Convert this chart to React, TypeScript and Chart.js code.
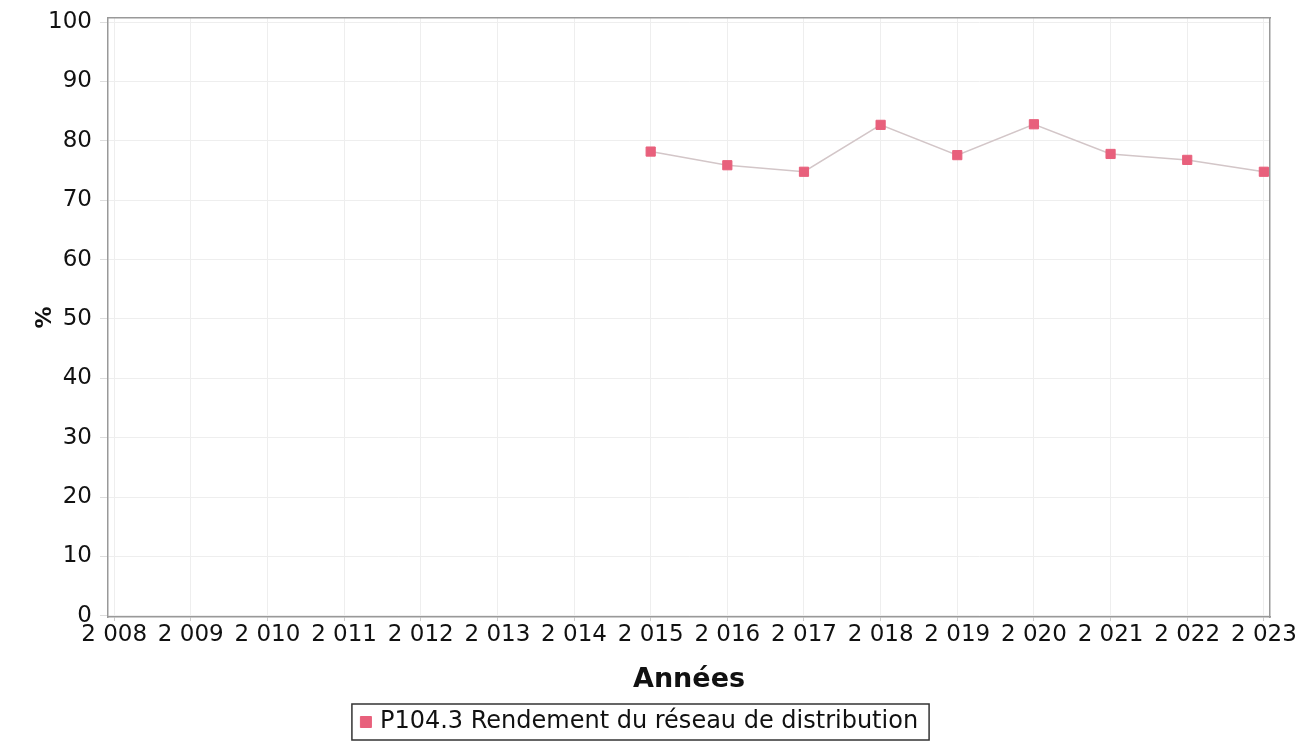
import React, { useEffect, useRef } from 'react';
import { Chart, registerables } from 'chart.js';

Chart.register(...registerables);

const years = [2015, 2016, 2017, 2018, 2019, 2020, 2021, 2022, 2023];
const rendement = [78.2, 75.9, 74.8, 82.7, 77.6, 82.8, 77.8, 76.8, 74.8];
const xTickYears = [2008, 2009, 2010, 2011, 2012, 2013, 2014, 2015, 2016, 2017, 2018, 2019, 2020, 2021, 2022, 2023];
const yTickValues = [0, 10, 20, 30, 40, 50, 60, 70, 80, 90, 100];
const seriesLabel = 'P104.3 Rendement du réseau de distribution';
const xTitle = 'Années';
const yTitle = '%';

const FONT = "'DejaVu Sans', sans-serif";

const fmtYear = (v: number) => String(v).replace(/\B(?=(\d{3})+(?!\d))/g, ' ');

const LEGEND_SHIFT = 8;

const legendBorder = {
  id: 'legendBorder',
  afterLayout(chart: any) {
    const lg = chart.legend;
    if (!lg) return;
    lg.left -= LEGEND_SHIFT;
    lg.right -= LEGEND_SHIFT;
  },
  afterDraw(chart: any) {
    const lg = chart.legend;
    if (!lg || !lg.legendHitBoxes || !lg.legendHitBoxes.length) return;
    const hb = lg.legendHitBoxes[0];
    const ctx = chart.ctx;
    ctx.save();
    ctx.strokeStyle = '#333';
    ctx.lineWidth = 1.5;
    ctx.strokeRect(hb.left - 12, hb.top + hb.height / 2 - 18, hb.width + 23, 36);
    ctx.restore();
  },
};

export default function App() {
  const ref = useRef<HTMLCanvasElement>(null);
  useEffect(() => {
    const chart = new Chart(ref.current!, {
      type: 'line',
      data: {
        datasets: [
          {
            label: seriesLabel,
            data: years.map((x, i) => ({ x, y: rendement[i] })),
            borderColor: '#d3c6c8',
            borderWidth: 1.5,
            pointStyle: 'rect',
            pointRadius: 6.5,
            pointBackgroundColor: '#e8607c',
            pointBorderColor: '#e8607c',
            pointBorderWidth: 1,
            tension: 0,
          },
        ],
      },
      options: {
        animation: false,
        responsive: false,
        maintainAspectRatio: false,
        layout: { padding: { left: 28, right: 36, top: 18, bottom: 0 } },
        plugins: {
          tooltip: { enabled: false },
          legend: {
            position: 'bottom',
            labels: {
              usePointStyle: true,
              pointStyle: 'rect',
              boxWidth: 4,
              boxHeight: 11,
              padding: 10,
              color: '#111',
              font: { family: FONT, size: 24 },
            },
          },
        },
        scales: {
          x: {
            type: 'linear',
            min: 2007.92,
            max: 2023.08,
            afterBuildTicks: (s: any) => {
              s.ticks = xTickYears.map((v) => ({ value: v }));
            },
            afterFit: (s: any) => {
              s.height = 83;
              s.paddingLeft = 0;
              s.paddingRight = 0;
            },
            ticks: {
              autoSkip: false,
              maxRotation: 0,
              padding: 0,
              color: '#111',
              font: { family: FONT, size: 23 },
              callback: (v: any) => fmtYear(Number(v)),
            },
            grid: { color: '#eeeeee', tickLength: 4, tickColor: '#cccccc' },
            border: { display: true, color: '#999999', width: 1.5 },
            title: {
              display: true,
              text: xTitle,
              color: '#111',
              font: { family: FONT, size: 27, weight: 'bold' },
              padding: { top: 4, bottom: 4 },
            },
          },
          y: {
            type: 'linear',
            min: -0.2,
            max: 100.7,
            afterBuildTicks: (s: any) => {
              s.ticks = yTickValues.map((v) => ({ value: v }));
            },
            afterFit: (s: any) => {
              s.width = 80;
              s.paddingTop = 0;
              s.paddingBottom = 0;
            },
            ticks: {
              padding: 8,
              color: '#111',
              font: { family: FONT, size: 23 },
            },
            grid: { color: '#eeeeee', tickLength: 8, tickColor: '#dddddd' },
            border: { display: true, color: '#999999', width: 1.5 },
            title: {
              display: true,
              text: yTitle,
              color: '#111',
              font: { family: FONT, size: 22, weight: 'bold' },
              padding: { top: 4, bottom: 4 },
            },
          },
          x2: {
            type: 'linear',
            position: 'top',
            display: true,
            min: 2007.92,
            max: 2023.08,
            afterFit: (s: any) => {
              s.height = 0;
              s.paddingLeft = 0;
              s.paddingRight = 0;
            },
            ticks: { display: false },
            grid: { display: false },
            border: { display: true, color: '#999999', width: 1.5 },
          },
          y2: {
            type: 'linear',
            position: 'right',
            display: true,
            min: 0,
            max: 100,
            afterFit: (s: any) => {
              s.width = 0;
              s.paddingTop = 0;
              s.paddingBottom = 0;
            },
            ticks: { display: false },
            grid: { display: false },
            border: { display: true, color: '#999999', width: 1.5 },
          },
        },
      },
      plugins: [legendBorder],
    } as any);
    return () => chart.destroy();
  }, []);

  return (
    <div style={{ position: 'fixed', left: 0, top: 0, width: 1306, height: 744, background: '#fff' }}>
      <canvas ref={ref} width={1306} height={744} style={{ width: 1306, height: 744, display: 'block' }} />
    </div>
  );
}
